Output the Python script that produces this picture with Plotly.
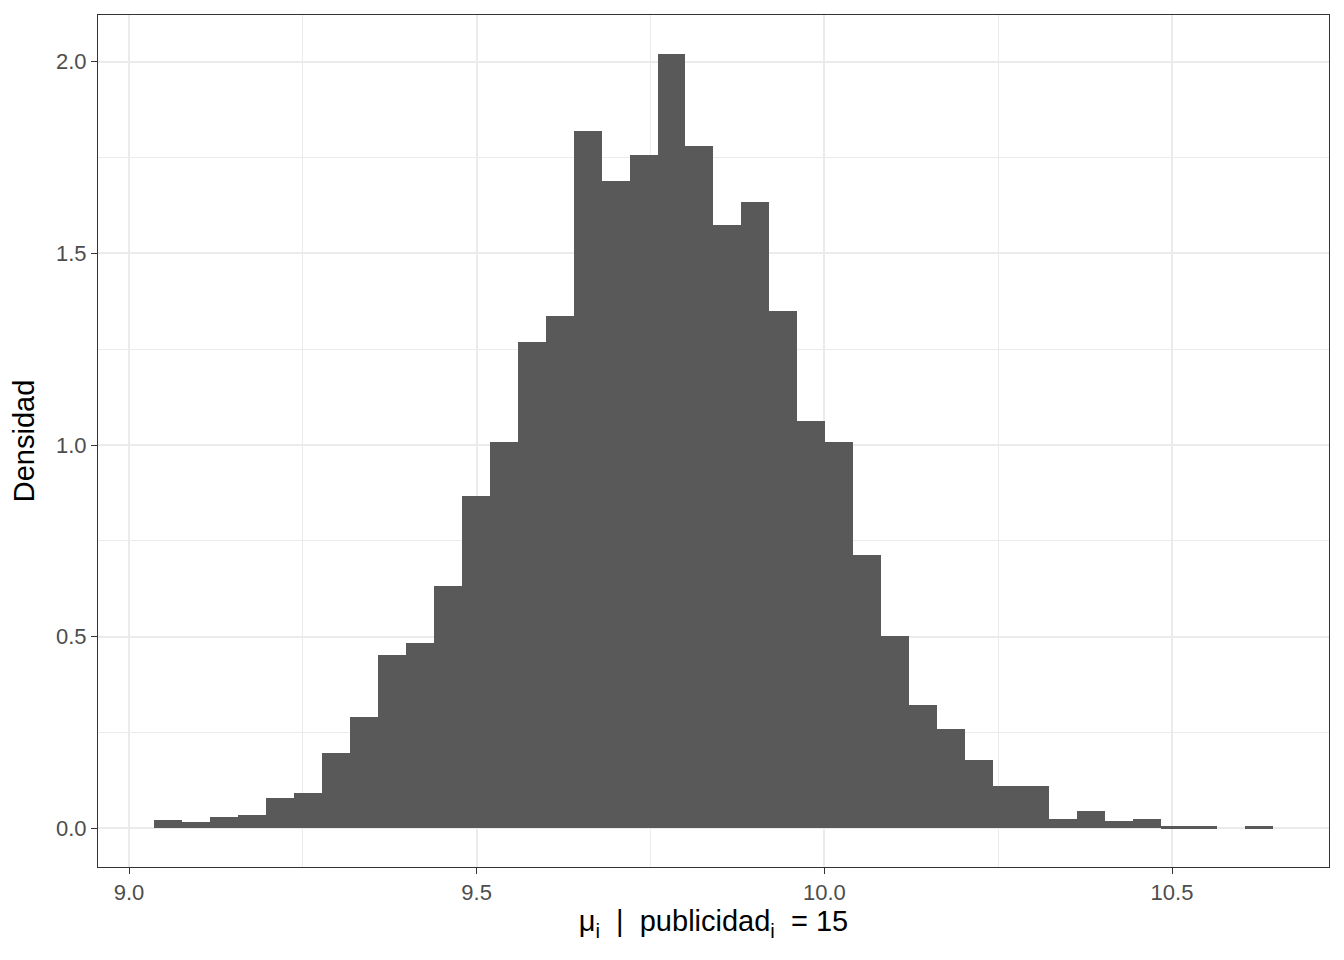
import plotly.graph_objects as go

# Bin centres of the histogram (x values, mu_i | publicidad_i = 15)
bin_centers = [9.0560, 9.0962, 9.1364, 9.1767, 9.2169, 9.2571, 9.2974, 9.3376,
               9.3779, 9.4181, 9.4583, 9.4986, 9.5388, 9.5790, 9.6193, 9.6595,
               9.6997, 9.7400, 9.7802, 9.8204, 9.8607, 9.9009, 9.9412, 9.9814,
               10.0216, 10.0619, 10.1021, 10.1423, 10.1826, 10.2228, 10.2630,
               10.3033, 10.3435, 10.3838, 10.4240, 10.4642, 10.5045, 10.5447,
               10.5849, 10.6252]
bin_width = 0.04023

# Density of each bin
density = [0.022, 0.016, 0.029, 0.035, 0.079, 0.093, 0.197, 0.291,
           0.451, 0.483, 0.632, 0.868, 1.008, 1.268, 1.336, 1.820,
           1.690, 1.758, 2.021, 1.779, 1.573, 1.635, 1.349, 1.063,
           1.008, 0.713, 0.502, 0.322, 0.260, 0.179, 0.111, 0.111,
           0.023, 0.044, 0.018, 0.023, 0.005, 0.005, 0.0, 0.005]

x_ticks = [9.0, 9.5, 10.0, 10.5]
x_ticklabels = ["9.0", "9.5", "10.0", "10.5"]
y_ticks = [0.0, 0.5, 1.0, 1.5, 2.0]
y_ticklabels = ["0.0", "0.5", "1.0", "1.5", "2.0"]

x_title = "μ<sub>i</sub>\u00a0\u00a0|\u00a0\u00a0publicidad<sub>i</sub>\u00a0\u00a0= 15"
y_title = "Densidad"

FONT = "Liberation Sans, Arial, Helvetica, sans-serif"

fig = go.Figure()
fig.add_trace(go.Bar(
    x=bin_centers, y=density, width=bin_width,
    marker=dict(color="#595959", line=dict(width=0)),
    hoverinfo="x+y", showlegend=False,
))

xmin = bin_centers[0] - bin_width / 2
xmax = bin_centers[-1] + bin_width / 2
xpad = (xmax - xmin) * 0.05
ymax = max(density)
ypad = ymax * 0.05

axis_common = dict(
    showline=True, mirror=True, linecolor="#333333", linewidth=1.1,
    ticks="outside", ticklen=6, tickwidth=1.1, tickcolor="#333333",
    showgrid=True, gridcolor="#EBEBEB", gridwidth=2,
    zeroline=False,
    tickfont=dict(family=FONT, size=22, color="#4D4D4D"),
)

fig.update_layout(
    width=1336, height=952,
    margin=dict(l=90, r=15, t=7, b=93),
    paper_bgcolor="white", plot_bgcolor="white",
    bargap=0,
    font=dict(family=FONT),
    xaxis=dict(
        range=[xmin - xpad, xmax + xpad],
        tickvals=x_ticks, ticktext=x_ticklabels,
        minor=dict(dtick=0.25, tick0=9.0, showgrid=True, gridcolor="#EBEBEB", gridwidth=1, ticks=""),
        title=dict(text=x_title, font=dict(family=FONT, size=29, color="black"), standoff=4),
        **axis_common,
    ),
    yaxis=dict(
        range=[-ypad, ymax + ypad],
        tickvals=y_ticks, ticktext=y_ticklabels,
        minor=dict(dtick=0.25, tick0=0.0, showgrid=True, gridcolor="#EBEBEB", gridwidth=1, ticks=""),
        title=dict(text=y_title, font=dict(family=FONT, size=29, color="black"), standoff=13),
        **axis_common,
    ),
)

fig.write_html("out.html")
